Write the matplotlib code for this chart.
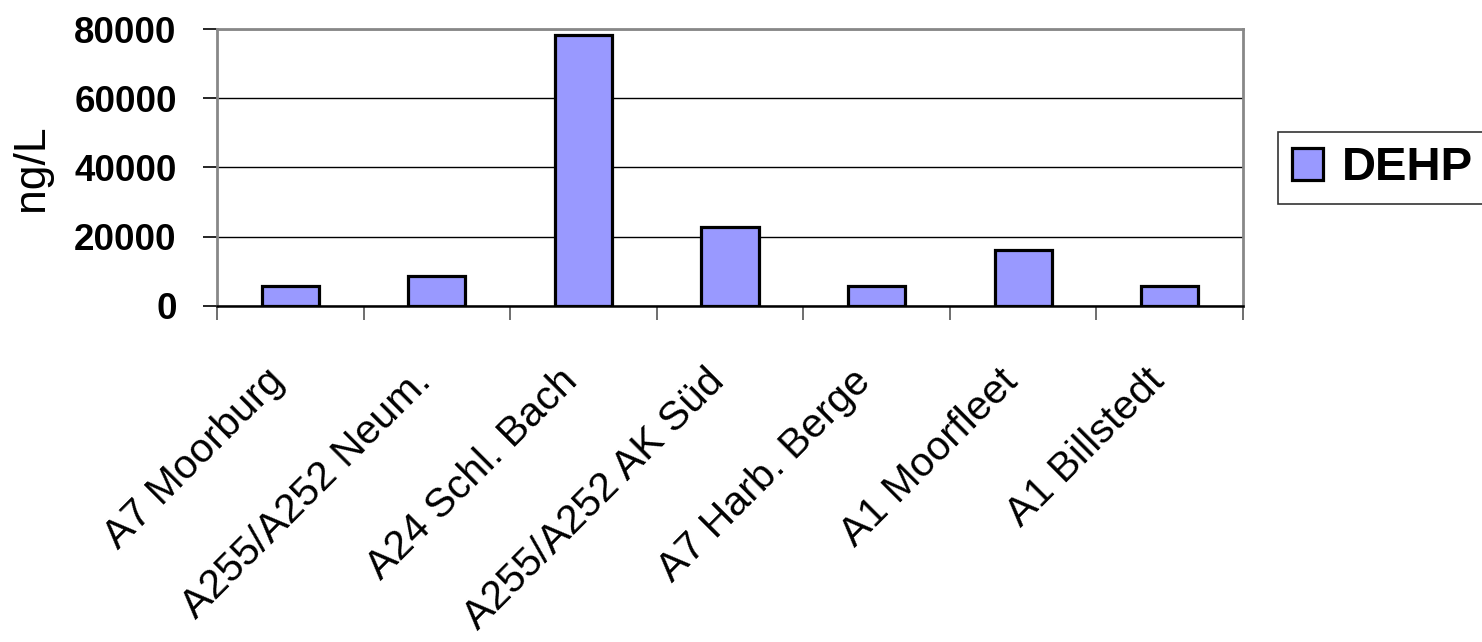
import matplotlib.pyplot as plt
import numpy as np

plt.rcParams['font.family'] = ['Liberation Sans', 'DejaVu Sans']

# Data
sites = ['A7 Moorburg', 'A255/A252 Neum.', 'A24 Schl. Bach', 'A255/A252 AK Süd',
         'A7 Harb. Berge', 'A1 Moorfleet', 'A1 Billstedt']
dehp = [5800, 8600, 78200, 22900, 5800, 16300, 5800]
yticks = [0, 20000, 40000, 60000, 80000]

fig = plt.figure(figsize=(14.82, 6.42), dpi=100)
ax = fig.add_axes([0.1464, 0.5234, 0.6923, 0.4314])

x = np.arange(len(sites))
ax.bar(x, dehp, width=0.39, color='#9999ff', edgecolor='black',
       linewidth=2.3, label='DEHP', zorder=3)

ax.set_xlim(-0.5, len(sites) - 0.5)
ax.set_ylim(0, 80000)
ax.set_yticks(yticks)
ax.set_yticklabels([str(v) for v in yticks], fontsize=26.5, fontweight='bold')
ax.yaxis.grid(True, color='black', linewidth=1.0, zorder=0)

# x ticks sit on the category boundaries, labels at the centres
ax.set_xticks(np.arange(len(sites) + 1) - 0.5)
ax.set_xticklabels([])
ax.tick_params(axis='x', length=10, color='#555555', width=1.2)
ax.tick_params(axis='y', length=10, width=1.2, pad=19)
for i, s in enumerate(sites):
    ax.text(i - 0.08, -0.25, s, transform=ax.get_xaxis_transform(),
            rotation=45, ha='right', va='center', rotation_mode='anchor',
            fontsize=29.5)

ax.set_ylabel('ng/L', fontsize=32)
ax.yaxis.set_label_coords(-0.161, 0.5)

for side in ['top', 'right', 'left']:
    ax.spines[side].set_color('#888888')
    ax.spines[side].set_linewidth(2)
ax.spines['bottom'].set_color('black')
ax.spines['bottom'].set_linewidth(1.8)

leg = fig.legend(loc='upper left', bbox_to_anchor=(0.8623, 0.7944),
                 prop={'size': 34, 'weight': 'bold'}, frameon=True,
                 fancybox=False, edgecolor='black', handlelength=0.66,
                 handleheight=0.66, handletextpad=0.4, borderpad=0.3,
                 borderaxespad=0)
leg.get_frame().set_linewidth(1.2)

fig.savefig('out.png', dpi=100)
